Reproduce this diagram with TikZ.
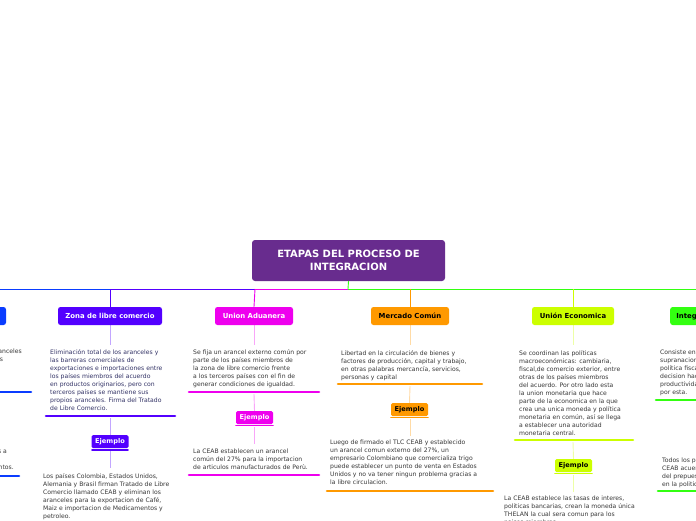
\documentclass[tikz,border=0pt]{standalone}
\usepackage{fontspec}
\setmainfont{DejaVu Sans}
\begin{document}
\begin{tikzpicture}[x=1pt,y=-1pt,
  branch/.style={rounded corners=2.5pt, minimum height=18pt, inner sep=1pt, font=\bfseries\fontsize{6.9}{8}\selectfont},
  ej/.style={rounded corners=1.5pt, minimum height=13pt, minimum width=37pt, inner sep=1pt, font=\bfseries\fontsize{6.6}{8}\selectfont},
  txt/.style={anchor=north west, inner sep=0pt, align=left, text=black!78, font=\fontsize{6.1}{8}\selectfont},
  uline/.style={line width=2.6pt, line cap=round},
  conn/.style={line width=0.9pt},
  soft/.style={line width=0.9pt, opacity=0.35}]
\definecolor{ctitle}{HTML}{682C8E}
\definecolor{cblue}{HTML}{0A3CFF}
\definecolor{cpurp}{HTML}{5300FF}
\definecolor{cmag}{HTML}{EE00EE}
\definecolor{corg}{HTML}{FF9900}
\definecolor{cyel}{HTML}{CCFF00}
\definecolor{cgrn}{HTML}{33FF11}
\useasboundingbox (0,0) rectangle (696,520);
\clip (0,0) rectangle (696,520);
\fill[white] (0,0) rectangle (696,520);

% title
\node[rounded corners=3pt, fill=ctitle, minimum width=193pt, minimum height=41pt, text=white, align=center,
  font=\bfseries\fontsize{10}{13}\selectfont] (title) at (348.5,260.5) {ETAPAS DEL PROCESO DE\\INTEGRACION};

% hub coordinates on horizontal line
\coordinate (h0) at (0,289);
\coordinate (hz) at (110,289);
\coordinate (hu) at (255,289);
\coordinate (hc) at (348,289);
\coordinate (hm) at (410,289);
\coordinate (he) at (573,289);
\coordinate (hi) at (696,289);
\draw[conn,cgrn] (title.south) -- (hc);
\draw[conn,cblue] (h0) -- (hz);
\draw[conn,cpurp] (hz) -- (hu);
\draw[conn,cmag] (hu) -- (hc);
\draw[conn,cgrn] (hc) -- (hi);

% branch boxes
\node[branch, fill=cblue, minimum width=70pt] (bb) at (-29,316) {};
\node[branch, fill=cpurp, text=white, minimum width=104pt] (bz) at (110,316) {Zona de libre comercio};
\node[branch, fill=cmag, text=white, minimum width=78pt] (bu) at (254,316) {Union Aduanera};
\node[branch, fill=corg, text=black, minimum width=78pt] (bm) at (410,316) {Mercado Común};
\node[branch, fill=cyel, text=black, minimum width=82pt] (be) at (573,316) {Unión Economica};
\node[branch, fill=cgrn, text=black, minimum width=70pt, anchor=west, align=left] (bi) at (670,316) {\hspace*{1pt}Integración\hspace*{14pt}};

\draw[conn,cpurp,rounded corners=2pt] (hz) -- (bz.north);
\draw[conn,cmag,rounded corners=2pt] (hu) -- (bu.north);
\draw[conn,corg,rounded corners=2pt] (hm) -- (bm.north);
\draw[conn,cyel,rounded corners=2pt] (he) -- (be.north);

% ---- blue (cut off)
\node[txt, anchor=north east] (tb1) at (22,349) {entre los aranceles\\de los paises\\a favor o\\miembros};
\coordinate (ub1a) at (-10,392); \coordinate (ub1b) at (31,392);
\draw[uline,cblue] (ub1a) -- (ub1b);
\node[txt, anchor=north east] (tb2) at (14,449) {paises a\\27\%\\alimentos.};
\coordinate (ub2a) at (-10,476); \coordinate (ub2b) at (19,476);
\draw[uline,cblue] (ub2a) -- (ub2b);

% ---- Zona de libre comercio
\node[txt, text=blue!25!black!80] (tz1) at (50,349) {Eliminación total de los aranceles y\\las barreras comerciales de\\exportaciones e importaciones entre\\los países miembros del acuerdo\\en productos originarios, pero con\\terceros países se mantiene sus\\propios aranceles. Firma del Tratado\\de Libre Comercio.};
\coordinate (uz1a) at (46,416); \coordinate (uz1b) at (175,416);
\draw[uline,cpurp] (uz1a) -- (uz1b);
\node[ej, fill=cpurp, text=white] (ez) at (110,441.5) {Ejemplo};
\coordinate (uz2a) at (92,450); \coordinate (uz2b) at (128,450);
\draw[uline,cpurp,line width=1.8pt] (uz2a) -- (uz2b);
\node[txt] (tz2) at (43,473) {Los países Colombia, Estados Unidos,\\Alemania y Brasil firman Tratado de Libre\\Comercio llamado CEAB y eliminan los\\aranceles para la exportacion de Café,\\Maiz e importacion de Medicamentos y\\petroleo.};
\draw[soft,cpurp] (bz.south) -- (110,345);
\draw[soft,cpurp] (110,418) -- (ez.north);
\draw[soft,cpurp] (110,451) -- (110,468);

% ---- Union Aduanera
\node[txt] (tu1) at (193,349) {Se fija un arancel externo común por\\parte de los países miembros de\\la zona de libre comercio frente\\a los terceros países con el fin de\\generar condiciones de igualdad.};
\coordinate (uu1a) at (189,392); \coordinate (uu1b) at (319,392);
\draw[uline,cmag] (uu1a) -- (uu1b);
\node[ej, fill=cmag, text=white] (eu) at (254.5,417.5) {Ejemplo};
\coordinate (uu2a) at (236,425.5); \coordinate (uu2b) at (273,425.5);
\draw[uline,cmag,line width=1.8pt] (uu2a) -- (uu2b);
\node[txt] (tu2) at (193,449) {La CEAB establecen un arancel\\común del 27\% para la importacion\\de articulos manufacturados de Perù.};
\coordinate (uu3a) at (189,475); \coordinate (uu3b) at (319,475);
\draw[uline,cmag] (uu3a) -- (uu3b);
\draw[soft,cmag] (bu.south) -- (254,345);
\draw[soft,cmag] (254,394) -- (eu.north);
\draw[soft,cmag] (254,427) -- (254,444);

% ---- Mercado Comun
\node[txt] (tm1) at (341,350) {Libertad en la circulación de bienes y\\factores de producción, capital y trabajo,\\en otras palabras mercancía, servicios,\\personas y capital};
\coordinate (um1a) at (338,384); \coordinate (um1b) at (482,384);
\draw[uline,corg] (um1a) -- (um1b);
\node[ej, fill=corg, text=black] (em) at (409.5,409.5) {Ejemplo};
\coordinate (um2a) at (391,417.5); \coordinate (um2b) at (428,417.5);
\draw[uline,corg,line width=1.8pt] (um2a) -- (um2b);
\node[txt] (tm2) at (330,440) {Luego de firmado el TLC CEAB y establecido\\un arancel comun externo del 27\%, un\\empresario Colombiano que comercializa trigo\\puede establecer un punto de venta en Estados\\Unidos y no va tener ningun problema gracias a\\la libre circulacion.};
\coordinate (um3a) at (327,491); \coordinate (um3b) at (493,491);
\draw[uline,corg] (um3a) -- (um3b);
\draw[soft,corg] (bm.south) -- (410,345);
\draw[soft,corg] (410,386) -- (em.north);
\draw[soft,corg] (410,419) -- (410,436);

% ---- Union Economica
\node[txt] (te1) at (519,350) {Se coordinan las políticas\\macroeconómicas: cambiaria,\\fiscal,de comercio exterior, entre\\otras de los países miembros\\del acuerdo. Por otro lado esta\\la union monetaria que hace\\parte de la economica en la que\\crea una unica moneda y política\\monetaria en común, así se llega\\a establecer una autoridad\\monetaria central.};
\coordinate (ue1a) at (515,440); \coordinate (ue1b) at (633,440);
\draw[uline,cyel] (ue1a) -- (ue1b);
\node[ej, fill=cyel, text=black] (ee) at (573.5,465.5) {Ejemplo};
\coordinate (ue2a) at (555,473.5); \coordinate (ue2b) at (592,473.5);
\draw[uline,cyel,line width=1.8pt] (ue2a) -- (ue2b);
\node[txt] (te2) at (504,496) {La CEAB establece las tasas de interes,\\politicas bancarias, crean la moneda única\\THELAN la cual sera comun para los\\paises miembros.};
\draw[soft,cyel] (be.south) -- (573,345);
\draw[soft,cyel] (573,442) -- (ee.north);
\draw[soft,cyel] (573,475) -- (573,492);

% ---- Integracion (cut off)
\node[txt] (ti1) at (660,350) {Consiste en una autoridad\\supranacional que maneja la\\política fiscal, monetaria y la\\decision hace que la\\productividad sea manejada\\por esta.};
\coordinate (ui1a) at (656,400); \coordinate (ui1b) at (710,400);
\draw[uline,cgrn] (ui1a) -- (ui1b);
\node[txt] (ti2) at (662,458) {Todos los paises miembros de la\\CEAB acuerdan la aprobación\\del prepuesto y la participacion\\en la politica fiscal comun.};
\coordinate (ui2a) at (658,491); \coordinate (ui2b) at (710,491);
\draw[uline,cgrn] (ui2a) -- (ui2b);
\end{tikzpicture}
\end{document}
